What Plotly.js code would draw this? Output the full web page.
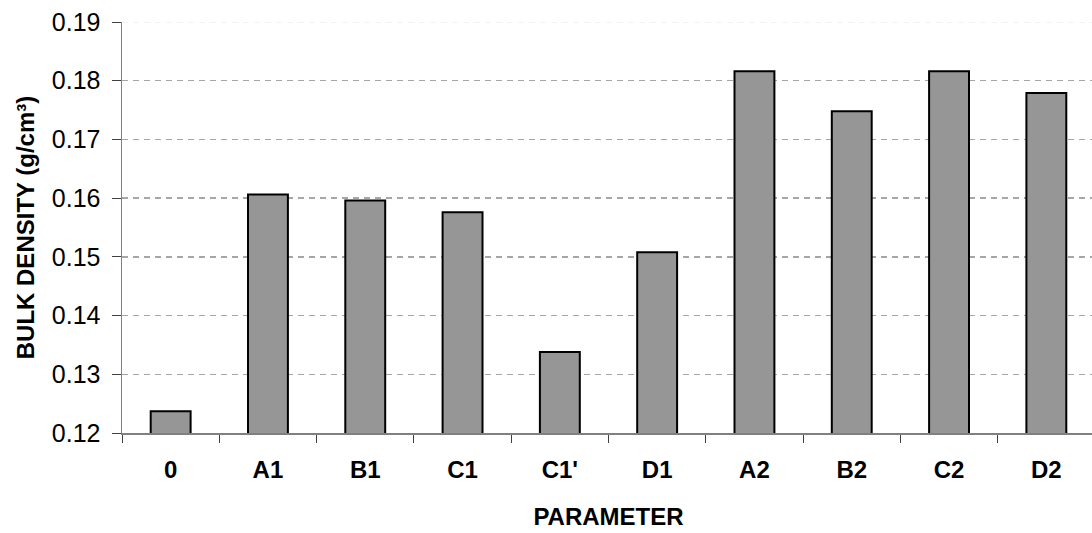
<!DOCTYPE html>
<html>
<head>
<meta charset="utf-8">
<script src="https://cdn.plot.ly/plotly-3.0.1.min.js"></script>
<style>
html,body{margin:0;padding:0;overflow:hidden;background:#fff;}
#chart{width:1095px;height:533px;}
</style>
</head>
<body>
<div id="chart"></div>
<script>
const categories = ["0", "A1", "B1", "C1", "C1'", "D1", "A2", "B2", "C2", "D2"];
const bulkDensity = [0.1237, 0.1606, 0.1596, 0.1576, 0.1338, 0.1508, 0.1816, 0.1748, 0.1816, 0.1779];
const yTickValues = [0.12, 0.13, 0.14, 0.15, 0.16, 0.17, 0.18, 0.19];

const trace = {
  type: 'bar',
  x: categories,
  y: bulkDensity,
  marker: {color: '#969696', line: {color: '#000000', width: 2}},
  hoverinfo: 'x+y'
};

const layout = {
  width: 1095,
  height: 533,
  margin: {l: 122, r: 0, t: 22, b: 100},
  paper_bgcolor: '#ffffff',
  plot_bgcolor: '#ffffff',
  bargap: 0.59,
  showlegend: false,
  font: {family: 'Liberation Sans, Arial, sans-serif', color: '#000'},
  shapes: [{
    type: 'line', xref: 'paper', yref: 'y', layer: 'below',
    x0: 0, x1: 1, y0: yTickValues[yTickValues.length - 1], y1: yTickValues[yTickValues.length - 1],
    line: {color: '#e6e6e6', width: 1, dash: '6px,5px'}
  }],
  xaxis: {
    type: 'category',
    showline: true,
    linecolor: '#808080',
    linewidth: 1.5,
    ticks: 'outside',
    tickson: 'boundaries',
    ticklen: 8,
    tickcolor: '#404040',
    tickwidth: 1,
    showgrid: false,
    tickfont: {size: 24, family: 'Liberation Sans, Arial, sans-serif', weight: 'bold'},
    ticklabelstandoff: 15,
    title: {text: '<b>PARAMETER</b>', font: {size: 24}, standoff: 26}
  },
  yaxis: {
    range: [0.12, 0.19],
    tickvals: yTickValues,
    tickformat: '.2f',
    showline: true,
    linecolor: '#808080',
    linewidth: 1.5,
    ticks: 'outside',
    ticklen: 9,
    tickcolor: '#404040',
    tickwidth: 1,
    showgrid: true,
    gridcolor: '#a6a6a6',
    gridwidth: 1.5,
    griddash: '6px,5px',
    zeroline: false,
    tickfont: {size: 25},
    ticklabelstandoff: 6,
    title: {text: '<b>BULK DENSITY (g/cm³)</b>', font: {size: 24}, standoff: 10}
  }
};

Plotly.newPlot('chart', [trace], layout, {displayModeBar: false, staticPlot: true});
</script>
</body>
</html>
